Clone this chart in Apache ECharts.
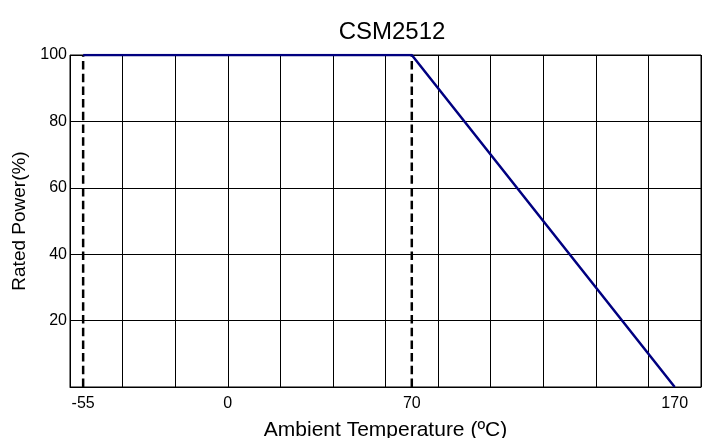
<!DOCTYPE html>
<html><head><meta charset="utf-8">
<script src="https://cdn.jsdelivr.net/npm/echarts@6/dist/echarts.min.js"></script>
<style>html,body{margin:0;padding:0;background:#fff}#c{width:711px;height:438px}</style>
</head><body><div id="c"></div>
<script>
var titleText = 'CSM2512';
var xTickLabels = [-55, 0, 70, 170];
var yTickLabels = [20, 40, 60, 80, 100];
var deratingCurve = [[-55, 100], [70, 100], [170, 0]];
var dashedMarks = [-55, 70];

var font = 'Liberation Sans, Arial, sans-serif';
var chart = echarts.init(document.getElementById('c'));
var series = [{
  type: 'line', data: deratingCurve, showSymbol: false, symbol: 'none',
  lineStyle: {color: '#000080', width: 2.5}, z: 5, xAxisIndex: 0, yAxisIndex: 0
}];
dashedMarks.forEach(function (v) {
  series.push({
    type: 'line', data: [[v, 0], [v, 100]], showSymbol: false, symbol: 'none',
    lineStyle: {color: '#000', width: 2.5, type: [8.5, 4.2]}, z: 4, xAxisIndex: 0, yAxisIndex: 0
  });
});
chart.setOption({
  animation: false,
  title: {text: titleText, left: 387, top: 15, textAlign: 'center',
    textStyle: {fontFamily: font, fontSize: 24, fontWeight: 'normal', color: '#000'}},
  grid: {left: 70, right: 10, top: 55, bottom: 51, show: true, borderColor: '#000', borderWidth: 1,
    containLabel: false, outerBoundsMode: 'none'},
  xAxis: [{
    type: 'value', min: -60, max: 180, interval: 20,
    axisLine: {show: true, lineStyle: {color: '#000', width: 1}},
    axisTick: {show: false}, axisLabel: {show: false},
    splitLine: {show: true, lineStyle: {color: '#000', width: 1}},
    name: 'Ambient Temperature (ºC)', nameLocation: 'middle', nameGap: 33,
    nameTextStyle: {fontFamily: font, fontSize: 21, color: '#000'}
  }, {
    type: 'value', min: -60, max: 180, interval: 5, position: 'bottom',
    axisLine: {show: false}, axisTick: {show: false}, splitLine: {show: false},
    axisLabel: {show: true, margin: 9, fontFamily: font, fontSize: 16, color: '#000',
      showMinLabel: true, showMaxLabel: true, hideOverlap: false,
      formatter: function (v) { return xTickLabels.indexOf(v) >= 0 ? String(v) : ''; }}
  }],
  yAxis: {
    type: 'value', min: 0, max: 100, interval: 20,
    axisLine: {show: true, lineStyle: {color: '#000', width: 1}},
    axisTick: {show: true, length: 3, lineStyle: {color: '#000'}},
    axisLabel: {margin: 3, fontFamily: font, fontSize: 16, color: '#000',
      formatter: function (v) { return yTickLabels.indexOf(v) >= 0 ? String(v) : ''; }},
    splitLine: {show: true, lineStyle: {color: '#000', width: 1}},
    name: 'Rated Power(%)', nameLocation: 'middle', nameGap: 38, nameRotate: 90,
    nameTextStyle: {fontFamily: font, fontSize: 19, color: '#000'}
  },
  series: series
});
</script></body></html>
